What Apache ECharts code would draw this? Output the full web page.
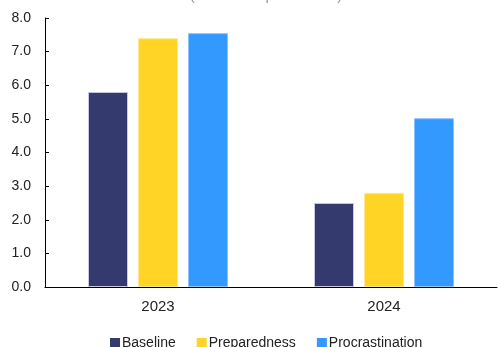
<!DOCTYPE html>
<html>
<head>
<meta charset="utf-8">
<script src="https://cdn.jsdelivr.net/npm/echarts@6/dist/echarts.min.js"></script>
<style>
  html, body { margin: 0; padding: 0; background: #fff; }
  #chart { width: 499px; height: 347px; }
</style>
</head>
<body>
<div id="chart"></div>
<script>
// chart data
const years = ["2023", "2024"];
const baseline = [5.8, 2.5];
const preparedness = [7.4, 2.8];
const procrastination = [7.55, 5.02];
const seriesNames = ["Baseline", "Preparedness", "Procrastination"];
const colors = ["#353a6e", "#ffd424", "#3399ff"];

const chart = echarts.init(document.getElementById("chart"));
const font = "Liberation Sans";

function bar(name, data, color, border) {
  return {
    name: name,
    type: "bar",
    data: data,
    barWidth: 40,
    barGap: "25%",
    itemStyle: { color: color, borderColor: border, borderWidth: 1 },
    emphasis: { disabled: true }
  };
}

chart.setOption({
  animation: false,
  backgroundColor: "#fff",
  title: {
    text: "Losses (% of GDP per annum)",
    left: 133,
    top: -17,
    textStyle: { fontFamily: font, fontSize: 15, fontWeight: "normal", color: "#999" }
  },
  legend: {
    bottom: -8,
    left: 105,
    icon: "rect",
    itemWidth: 10,
    itemHeight: 10,
    itemGap: 21,
    data: seriesNames,
    itemStyle: { borderWidth: 0 },
    textStyle: { fontFamily: font, fontSize: 14, color: "#222", padding: [0, 0, 0, -3] }
  },
  grid: { left: 45, right: 2, top: 18, bottom: 60 },
  xAxis: {
    type: "category",
    data: years,
    axisLine: { lineStyle: { color: "#000" } },
    axisTick: { inside: true, length: 5, lineStyle: { color: "#000" } },
    axisLabel: { fontFamily: font, fontSize: 15, color: "#222", margin: 12 }
  },
  yAxis: {
    type: "value",
    min: 0,
    max: 8,
    interval: 1,
    splitLine: { show: false },
    axisLine: { show: true, lineStyle: { color: "#000" } },
    axisTick: { show: true, inside: true, length: 4, lineStyle: { color: "#000" } },
    axisLabel: {
      fontFamily: font, fontSize: 14, color: "#222", margin: 14,
      formatter: function (v) { return v.toFixed(1); }
    }
  },
  series: [
    bar(seriesNames[0], baseline, colors[0], "#c8c8e0"),
    bar(seriesNames[1], preparedness, colors[1], "#ffe890"),
    bar(seriesNames[2], procrastination, colors[2], "#8cc4ff")
  ]
});
</script>
</body>
</html>
